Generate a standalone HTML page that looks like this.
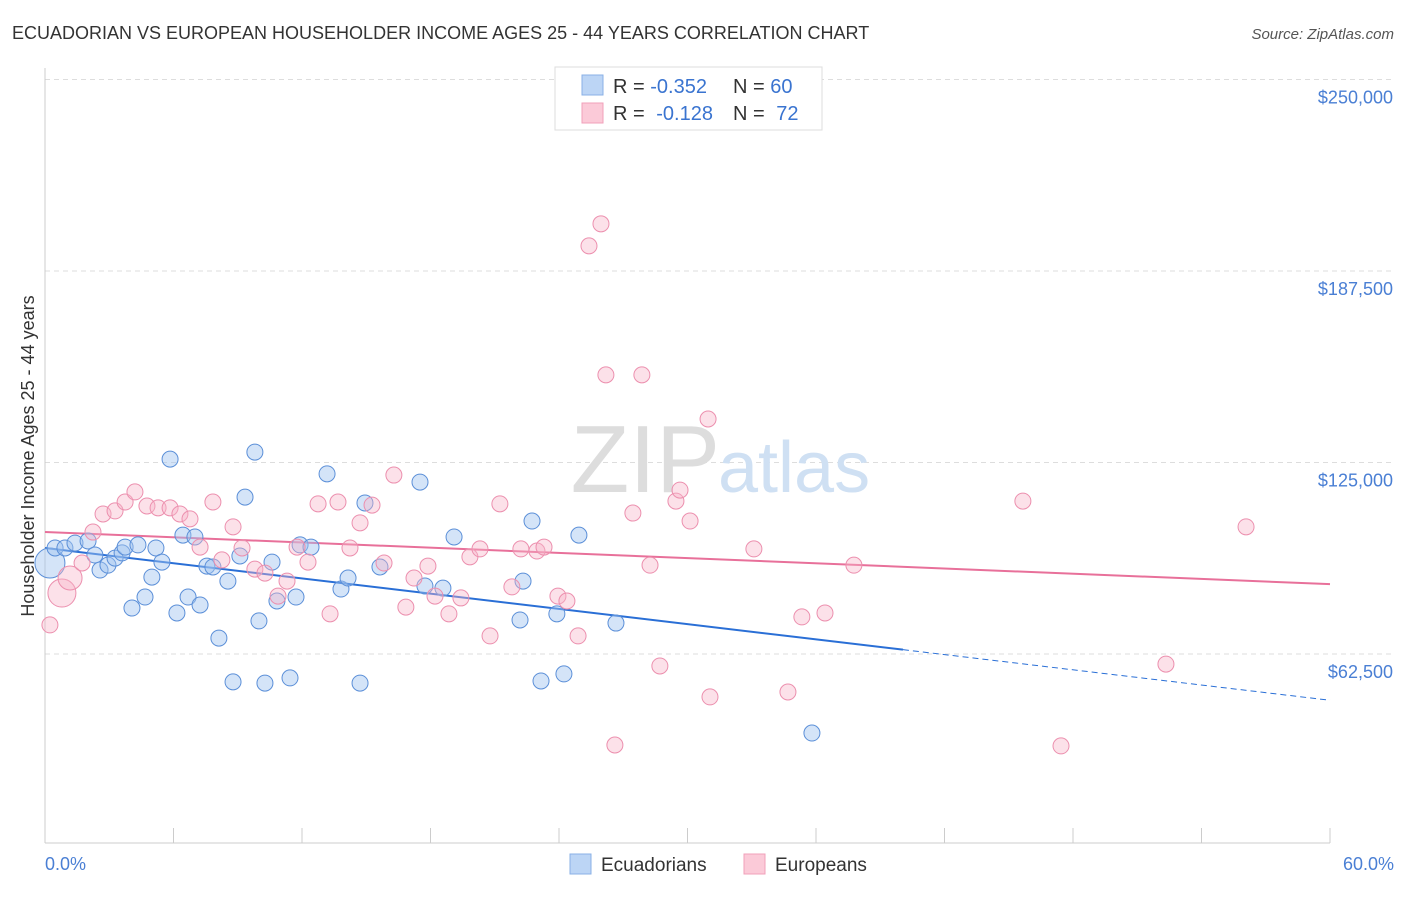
<!DOCTYPE html>
<html><head><meta charset="utf-8"><style>
body{margin:0;background:#fff;font-family:"Liberation Sans",sans-serif;}
svg text{font-family:"Liberation Sans",sans-serif;}
</style></head><body>
<svg id="chart" width="1406" height="892">
<text x="12" y="39" font-size="18" fill="#333">ECUADORIAN VS EUROPEAN HOUSEHOLDER INCOME AGES 25 - 44 YEARS CORRELATION CHART</text>
<text x="1394" y="39" font-size="15" fill="#555" font-style="italic" text-anchor="end">Source: ZipAtlas.com</text>
<g id="grid"></g>
<text x="720" y="492" font-size="96" font-family="Liberation Serif" fill="#ddd" text-anchor="end">ZIP</text>
<text x="718" y="492" font-size="72" fill="#cfe0f3">atlas</text>
<line x1="45" y1="68" x2="45" y2="843" stroke="#ccc"/>
<line x1="45" y1="843" x2="1330" y2="843" stroke="#ccc"/>
<text transform="translate(34,456) rotate(-90)" font-size="18" fill="#333" text-anchor="middle">Householder Income Ages 25 - 44 years</text>
<text x="45" y="870" font-size="18" fill="#4a7fd4">0.0%</text>
<text x="1394" y="870" font-size="18" fill="#4a7fd4" text-anchor="end">60.0%</text>
<g id="lines"></g>
<g id="points"></g>
<g>
<rect x="555" y="67" width="267" height="63" fill="#fff" stroke="#ddd"/>
<rect x="582" y="75" width="21" height="20" fill="#bcd5f5" stroke="#8ab0e6"/>
<rect x="582" y="103" width="21" height="20" fill="#fbcad8" stroke="#f0a0ba"/>
<text x="613" y="93" font-size="20" fill="#333">R = <tspan fill="#3a74d0">-0.352</tspan></text>
<text x="733" y="93" font-size="20" fill="#333">N = <tspan fill="#3a74d0">60</tspan></text>
<text x="613" y="120" font-size="20" fill="#333">R = <tspan fill="#3a74d0" dx="6">-0.128</tspan></text>
<text x="733" y="120" font-size="20" fill="#333">N = <tspan fill="#3a74d0" dx="6">72</tspan></text>
</g>
<g>
<rect x="570" y="854" width="21" height="20" fill="#bcd5f5" stroke="#8ab0e6"/>
<text x="601" y="871" font-size="19" fill="#333">Ecuadorians</text>
<rect x="744" y="854" width="21" height="20" fill="#fbcad8" stroke="#f0a0ba"/>
<text x="775" y="871" font-size="19" fill="#333">Europeans</text>
</g>
</svg>
<script>
const yTicks=[62500,125000,187500,250000];
const yTickLabels=["$62,500","$125,000","$187,500","$250,000"];
const xTicks=[0,6,12,18,24,30,36,42,48,54,60];
const blueX=[0.23,0.47,0.93,1.40,2.01,2.33,2.57,2.94,3.27,3.60,3.74,4.06,4.34,4.67,4.99,5.18,5.46,5.84,6.16,6.44,6.68,7.00,7.24,7.56,7.84,8.12,8.54,8.78,9.10,9.34,9.80,9.99,10.27,10.60,10.83,11.44,11.72,11.91,12.42,13.17,13.82,14.15,14.71,14.94,15.64,17.51,17.74,18.58,19.10,22.18,22.32,22.74,23.16,23.90,24.23,24.93,26.66,35.81];
const blueY=[92.2,97.1,97.1,98.7,99.4,94.8,89.9,91.5,93.8,95.5,97.4,77.5,98.1,81.1,87.6,97.1,92.5,126.1,75.9,101.3,81.1,100.7,78.5,91.2,90.9,67.7,86.3,53.4,94.5,113.7,128.4,73.3,53.0,92.5,79.8,54.7,81.1,98.1,97.4,121.3,83.7,87.3,53.0,111.8,90.9,118.6,84.7,84.0,100.7,73.6,86.3,105.9,53.7,75.6,56.0,101.3,72.6,36.7];
const blueR=[15];
const pinkX=[0.23,0.79,1.17,1.73,2.24,2.71,3.27,3.74,4.20,4.76,5.28,5.84,6.30,6.77,7.24,7.84,8.26,8.78,9.20,9.80,10.27,10.88,11.30,11.77,12.28,12.75,13.31,13.68,14.24,14.71,15.27,15.83,16.29,16.85,17.23,17.88,18.21,18.86,19.42,19.84,20.31,20.78,21.24,21.80,22.22,22.97,23.30,23.95,24.37,24.89,25.40,25.96,26.19,26.61,27.45,27.87,28.25,28.71,29.46,29.65,30.12,30.96,31.05,33.10,34.69,35.34,36.42,37.77,45.66,47.44,52.34,56.08];
const pinkY=[72.0,82.4,87.3,92.2,102.3,108.2,109.2,112.1,115.4,110.8,110.2,110.2,108.2,106.6,97.4,112.1,93.2,104.0,97.1,90.2,88.9,81.4,86.3,97.4,92.5,111.5,75.6,112.1,97.1,105.3,111.1,92.2,120.9,77.8,87.3,91.2,81.4,75.6,80.8,94.2,96.8,68.4,111.5,84.4,96.8,96.1,97.4,81.4,79.8,68.4,195.7,202.9,153.6,32.8,108.5,153.6,91.5,58.6,112.4,116.0,105.9,139.2,48.5,96.8,50.1,74.6,75.9,91.5,112.4,32.5,59.2,104.0];
const blueTrend=[97.1,47.4];
const pinkTrend=[102.3,85.3];
const blueSolidEnd=40.06;
const X0=45,X1=1330;
const sx=v=>X0+(v/60)*(X1-X0);
const sy=k=>654-(k*1000-62500)/62500*191.5;
const NS="http://www.w3.org/2000/svg";
function mk(parent,tag,attrs){const e=document.createElementNS(NS,tag);for(const k in attrs)e.setAttribute(k,attrs[k]);document.getElementById(parent).appendChild(e);return e;}
yTicks.forEach((t,i)=>{
 const y=sy(t/1000);
 const l=mk('grid','line',{x1:45,x2:1394,y1:y,y2:y,stroke:'#ddd','stroke-dasharray':'5,4'});
 
 
 const tx=mk('grid','text',{x:1393,y:y+24,'font-size':18,fill:'#4a7fd4','text-anchor':'end'});
 tx.textContent=yTickLabels[i];
 
 
});
xTicks.forEach(t=>{
 const l=mk('grid','line',{x1:sx(t),x2:sx(t),y1:828,y2:843,stroke:'#ccc'});
 
 
});
blueX.forEach((x,i)=>{
 const c=mk('points','circle',{cx:sx(x),cy:sy(blueY[i]),r:i===0?blueR[0]:8,fill:'rgba(160,196,240,0.45)',stroke:'#5b8fd8','stroke-width':1});
 
 
});
pinkX.forEach((x,i)=>{
 const r=i===1?14:(i===2?12:8);
 const c=mk('points','circle',{cx:sx(x),cy:sy(pinkY[i]),r:r,fill:'rgba(248,180,200,0.4)',stroke:'#ec8fae','stroke-width':1});
 
 
});
const bAt=x=>blueTrend[0]+(blueTrend[1]-blueTrend[0])*x/60;
let l1=mk('lines','line',{x1:sx(0),y1:sy(bAt(0)),x2:sx(blueSolidEnd),y2:sy(bAt(blueSolidEnd)),stroke:'#2a6fd6','stroke-width':2});


let l2=mk('lines','line',{x1:sx(blueSolidEnd),y1:sy(bAt(blueSolidEnd)),x2:sx(60),y2:sy(bAt(60)),stroke:'#2a6fd6','stroke-width':1,'stroke-dasharray':'6,4'});


let l3=mk('lines','line',{x1:sx(0),y1:sy(pinkTrend[0]),x2:sx(60),y2:sy(pinkTrend[1]),stroke:'#e8709a','stroke-width':2});


</script>
</body></html>
